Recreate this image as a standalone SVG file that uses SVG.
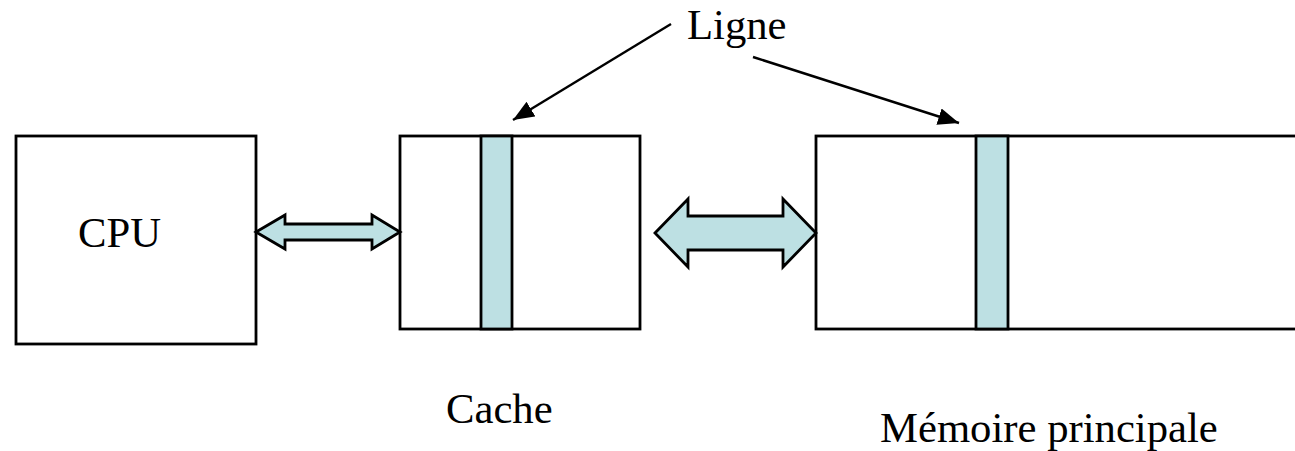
<svg xmlns="http://www.w3.org/2000/svg" width="1295" height="451" viewBox="0 0 1295 451">
  <style>
    .box { fill: #ffffff; stroke: #000000; stroke-width: 2.8; }
    .line { fill: #bde0e3; stroke: #000000; stroke-width: 2.8; }
    .bus { fill: #bde0e3; stroke: #000000; stroke-width: 2.8; stroke-linejoin: miter; }
    .lead { fill: none; stroke: #000000; stroke-width: 2.4; }
    .lbl { font-family: "Liberation Serif", "Times New Roman", serif; font-size: 42.7px; fill: #000000; }
  </style>
  <defs>
    <marker id="tip" markerUnits="userSpaceOnUse" markerWidth="24" markerHeight="20" refX="21" refY="8.5" orient="auto">
      <path d="M0,0 L21,8.5 L0,17 z" fill="#000000"/>
    </marker>
  </defs>

  <rect width="1295" height="451" fill="#ffffff"/>

  <g id="cpu">
    <rect class="box" x="16" y="136" width="240" height="208"/>
    <text class="lbl" x="78" y="247">CPU</text>
  </g>

  <g id="cache">
    <rect class="box" x="400" y="136" width="240" height="193"/>
    <rect class="line" x="481" y="136" width="31" height="193"/>
    <text class="lbl" x="446" y="423">Cache</text>
  </g>

  <g id="memoire">
    <rect class="box" x="816" y="136" width="520" height="193"/>
    <rect class="line" x="976" y="136" width="32" height="193"/>
    <text class="lbl" x="880" y="442">Mémoire principale</text>
  </g>

  <g id="ligne">
    <text class="lbl" x="687" y="39">Ligne</text>
  </g>

  <g id="connectors">
    <polygon class="bus" points="256,232 285,215 285,224 372,224 372,215 400,232 372,249 372,240 285,240 285,249"/>
    <polygon class="bus" points="655,233 688,199 688,216 783,216 783,199 816,233 783,267 783,250 688,250 688,267"/>
    <line class="lead" x1="671" y1="24" x2="513" y2="120" marker-end="url(#tip)"/>
    <line class="lead" x1="753" y1="57" x2="959" y2="123" marker-end="url(#tip)"/>
  </g>
</svg>
